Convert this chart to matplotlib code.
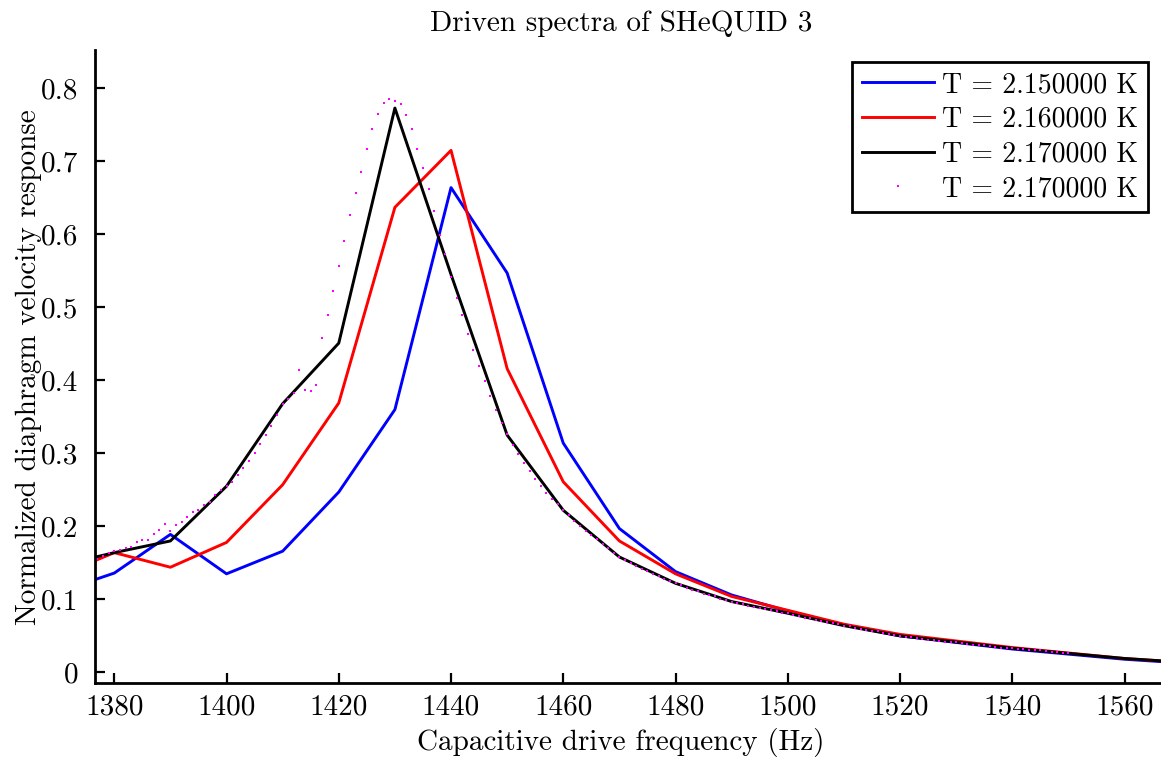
import numpy as np
import matplotlib
matplotlib.use('Agg')
import matplotlib.pyplot as plt
from matplotlib.ticker import FuncFormatter

plt.rcParams['font.family'] = ['cmr10', 'DejaVu Serif']
plt.rcParams['axes.unicode_minus'] = False
plt.rcParams['font.size'] = 21

# coarse sweeps (Hz)
freq = [1370, 1380, 1390, 1400, 1410, 1420, 1430, 1440, 1450, 1460, 1470,
        1480, 1490, 1500, 1510, 1520, 1540, 1560, 1580]
resp_215 = [0.110, 0.136, 0.189, 0.135, 0.166, 0.247, 0.360, 0.664, 0.547, 0.314, 0.197,
            0.138, 0.106, 0.084, 0.065, 0.050, 0.032, 0.018, 0.008]
resp_216 = [0.132, 0.164, 0.144, 0.178, 0.257, 0.369, 0.637, 0.715, 0.416, 0.261, 0.180,
            0.135, 0.104, 0.085, 0.066, 0.052, 0.034, 0.019, 0.009]
resp_217 = [0.146, 0.164, 0.180, 0.255, 0.368, 0.451, 0.773, 0.545, 0.325, 0.222, 0.158,
            0.122, 0.097, 0.081, 0.064, 0.050, 0.033, 0.019, 0.009]

# fine sweep at 2.17 K, 1 Hz steps from 1377 to 1550
freq_fine = np.arange(1377, 1551)
resp_217_fine = [
    0.155, 0.160, 0.163, 0.166, 0.167, 0.170, 0.172, 0.178, 0.181, 0.181, 0.189, 0.195,
    0.203, 0.194, 0.202, 0.206, 0.213, 0.219, 0.223, 0.229, 0.234, 0.243, 0.250, 0.255,
    0.261, 0.270, 0.280, 0.290, 0.301, 0.313, 0.325, 0.338, 0.352, 0.367,
    0.374, 0.383, 0.414, 0.387, 0.386, 0.393, 0.458, 0.490, 0.523, 0.557,
    0.591, 0.626, 0.657, 0.685, 0.717, 0.744, 0.765, 0.780, 0.785, 0.782,
    0.778, 0.763, 0.744, 0.717, 0.691, 0.662, 0.632, 0.599, 0.573, 0.541,
    0.513, 0.489, 0.464, 0.441, 0.419, 0.399, 0.379, 0.359, 0.342, 0.326,
    0.312, 0.299, 0.287, 0.276, 0.265, 0.255, 0.246, 0.238, 0.230, 0.222,
    0.215, 0.208, 0.201, 0.194, 0.188, 0.182, 0.176, 0.170, 0.164, 0.158,
    0.154, 0.150, 0.146, 0.142, 0.139, 0.135, 0.132, 0.128, 0.125, 0.122,
    0.119, 0.116, 0.113, 0.111, 0.108, 0.106, 0.104, 0.101, 0.099, 0.097,
    0.095, 0.093, 0.091, 0.090, 0.088, 0.087, 0.085, 0.084, 0.082, 0.081,
    0.079, 0.077, 0.075, 0.074, 0.072, 0.070, 0.069, 0.067, 0.066, 0.064,
    0.063, 0.061, 0.060, 0.058, 0.057, 0.056, 0.054, 0.053, 0.051, 0.050,
    0.049, 0.048, 0.047, 0.046, 0.045, 0.044, 0.043, 0.042, 0.041, 0.041,
    0.040, 0.039, 0.038, 0.037, 0.037, 0.036, 0.035, 0.034, 0.034, 0.033,
    0.032, 0.032, 0.031, 0.030, 0.030, 0.029, 0.028, 0.028, 0.027, 0.027,
]
labels = ['T = 2.150000 K', 'T = 2.160000 K', 'T = 2.170000 K', 'T = 2.170000 K']

fig = plt.figure(figsize=(11.61, 7.6), dpi=100)
ax = fig.add_axes([0.0818, 0.1009, 0.9182, 0.8333])

ax.plot(freq, resp_215, color='#0000ff', lw=2.1, label=labels[0])
ax.plot(freq, resp_216, color='#ff0000', lw=2.1, label=labels[1])
ax.plot(freq, resp_217, color='black', lw=2.1, label=labels[2])
ax.plot(freq_fine, resp_217_fine, ls='none', marker='s', ms=1.7, mew=0,
        color='#ff00ff', label=labels[3])

ax.set_xlim(1376.56, 1566.5)
ax.set_ylim(-0.015, 0.8525)
ax.set_xticks(np.arange(1380, 1561, 20))
ax.set_yticks(np.arange(0, 0.81, 0.1))
ax.yaxis.set_major_formatter(FuncFormatter(lambda v, p: f'{v:.1f}'.rstrip('0').rstrip('.') if abs(v) > 1e-9 else '0'))

for side in ['top', 'right']:
    ax.spines[side].set_visible(False)
for side in ['left', 'bottom']:
    ax.spines[side].set_linewidth(2.0)
ax.tick_params(direction='in', length=7, width=1.6, labelsize=21)
ax.tick_params(axis='x', pad=8)
ax.tick_params(axis='y', pad=12)

ax.set_title('Driven spectra of SHeQUID 3', fontsize=21, pad=14)
ax.title.set_x(0.4935)
ax.set_xlabel('Capacitive drive frequency (Hz)', fontsize=21, labelpad=5)
ax.xaxis.label.set_x(0.4935)
ax.set_ylabel('Normalized diaphragm velocity response', fontsize=21, labelpad=-1)

leg = ax.legend(loc='upper right', bbox_to_anchor=(0.988, 0.981), borderaxespad=0,
                fontsize=20, fancybox=False, framealpha=1, edgecolor='black',
                handlelength=2.6, handletextpad=0.3, labelspacing=0.3, borderpad=0.35)
leg.get_frame().set_linewidth(2.0)

fig.savefig('out.png', dpi=100)
